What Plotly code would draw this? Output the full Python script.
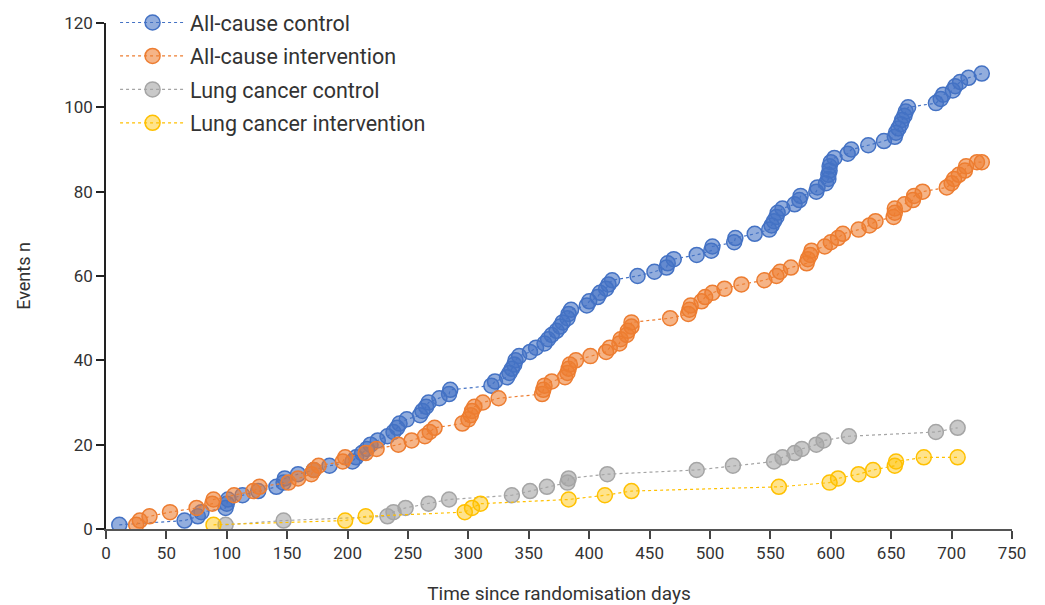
import plotly.graph_objects as go

# All-cause control: days and cumulative events
ac_ctrl_days = [11, 65, 76, 79, 99, 100, 101, 113, 126, 141, 147, 148, 159, 172, 185, 204, 207, 212, 216, 219,
                225, 233, 238, 241, 243, 249, 260, 262, 265, 267, 276, 284, 285, 319, 322, 332, 334, 336, 338, 339,
                342, 351, 356, 363, 366, 369, 373, 376, 378, 382, 383, 385, 398, 400, 407, 409, 414, 416, 419, 440,
                454, 464, 465, 470, 489, 501, 502, 520, 521, 537, 549, 551, 553, 555, 556, 560, 570, 574, 575, 588,
                589, 596, 598, 598, 599, 599, 600, 603, 614, 617, 631, 644, 653, 654, 656, 658, 659, 661, 662, 664,
                687, 691, 693, 701, 703, 707, 714, 725]
ac_ctrl_events = list(range(1, 109))

# All-cause intervention
ac_int_days = [25, 28, 36, 53, 75, 88, 89, 106, 122, 127, 151, 159, 170, 172, 176, 196, 198, 215, 224, 242,
               253, 264, 268, 272, 295, 300, 302, 303, 305, 312, 325, 361, 362, 363, 369, 380, 382, 383, 384, 389,
               401, 414, 417, 425, 426, 431, 432, 435, 435, 467, 482, 483, 484, 493, 496, 502, 512, 526, 545, 555,
               558, 567, 580, 581, 583, 584, 595, 600, 606, 610, 623, 632, 637, 652, 653, 653, 661, 668, 669, 676,
               696, 700, 702, 706, 711, 712, 721, 725]
ac_int_events = list(range(1, 88)) + [87]

# Lung cancer control
lc_ctrl_days = [99, 147, 233, 238, 248, 267, 284, 336, 351, 365, 382, 383, 415, 489, 519, 553, 560, 570, 576,
                588, 594, 615, 687, 705]
lc_ctrl_events = list(range(1, 25))

# Lung cancer intervention
lc_int_days = [89, 198, 215, 297, 303, 310, 383, 413, 435, 557, 599, 606, 623, 635, 653, 654, 677, 705]
lc_int_events = list(range(1, 18)) + [17]

x_ticks = list(range(0, 751, 50))
y_ticks = list(range(0, 121, 20))

series = [
    ("All-cause control", ac_ctrl_days, ac_ctrl_events, "#4472C4", "rgba(68,114,196,0.58)"),
    ("All-cause intervention", ac_int_days, ac_int_events, "#ED7D31", "rgba(237,125,49,0.58)"),
    ("Lung cancer control", lc_ctrl_days, lc_ctrl_events, "#A5A5A5", "rgba(165,165,165,0.6)"),
    ("Lung cancer intervention", lc_int_days, lc_int_events, "#FFC000", "rgba(255,192,0,0.45)"),
]

fig = go.Figure()
for name, xs, ys, col, fill in series:
    fig.add_trace(go.Scatter(
        x=xs, y=ys, name=name, mode="lines+markers", legendgroup=name,
        line=dict(color=col, width=1.2, dash="dot"),
        marker=dict(symbol="circle", size=15, color=fill, line=dict(color=col, width=1.5)),
    ))

font_fam = "Roboto, 'DejaVu Sans', sans-serif"
fig.update_layout(
    width=1045, height=605,
    margin=dict(l=98, r=41, t=15, b=84, autoexpand=False),
    paper_bgcolor="white", plot_bgcolor="white",
    font=dict(family=font_fam, size=17, color="#333333"),
    showlegend=True,
    legend=dict(x=0.010, y=1.0415, xanchor="left", yanchor="top",
                bgcolor="rgba(0,0,0,0)",
                font=dict(size=21.5, color="#333333"), tracegroupgap=2.5, itemwidth=65),
    xaxis=dict(range=[0, 750], tickvals=x_ticks, ticks="outside", ticklen=8, tickwidth=1.5,
               tickcolor="#444", showline=True, linecolor="#555", linewidth=2,
               showgrid=False, zeroline=False, automargin=False,
               title=dict(text="Time since randomisation days", standoff=24, font=dict(size=19))),
    yaxis=dict(range=[0, 120], tickvals=y_ticks, ticks="outside", ticklen=8, tickwidth=1.5,
               tickcolor="#222", showline=True, linecolor="#222", linewidth=1.5,
               showgrid=False, zeroline=False, automargin=False,
               title=dict(text="Events n", standoff=29, font=dict(size=18))),
)

fig.write_html("out.html")
